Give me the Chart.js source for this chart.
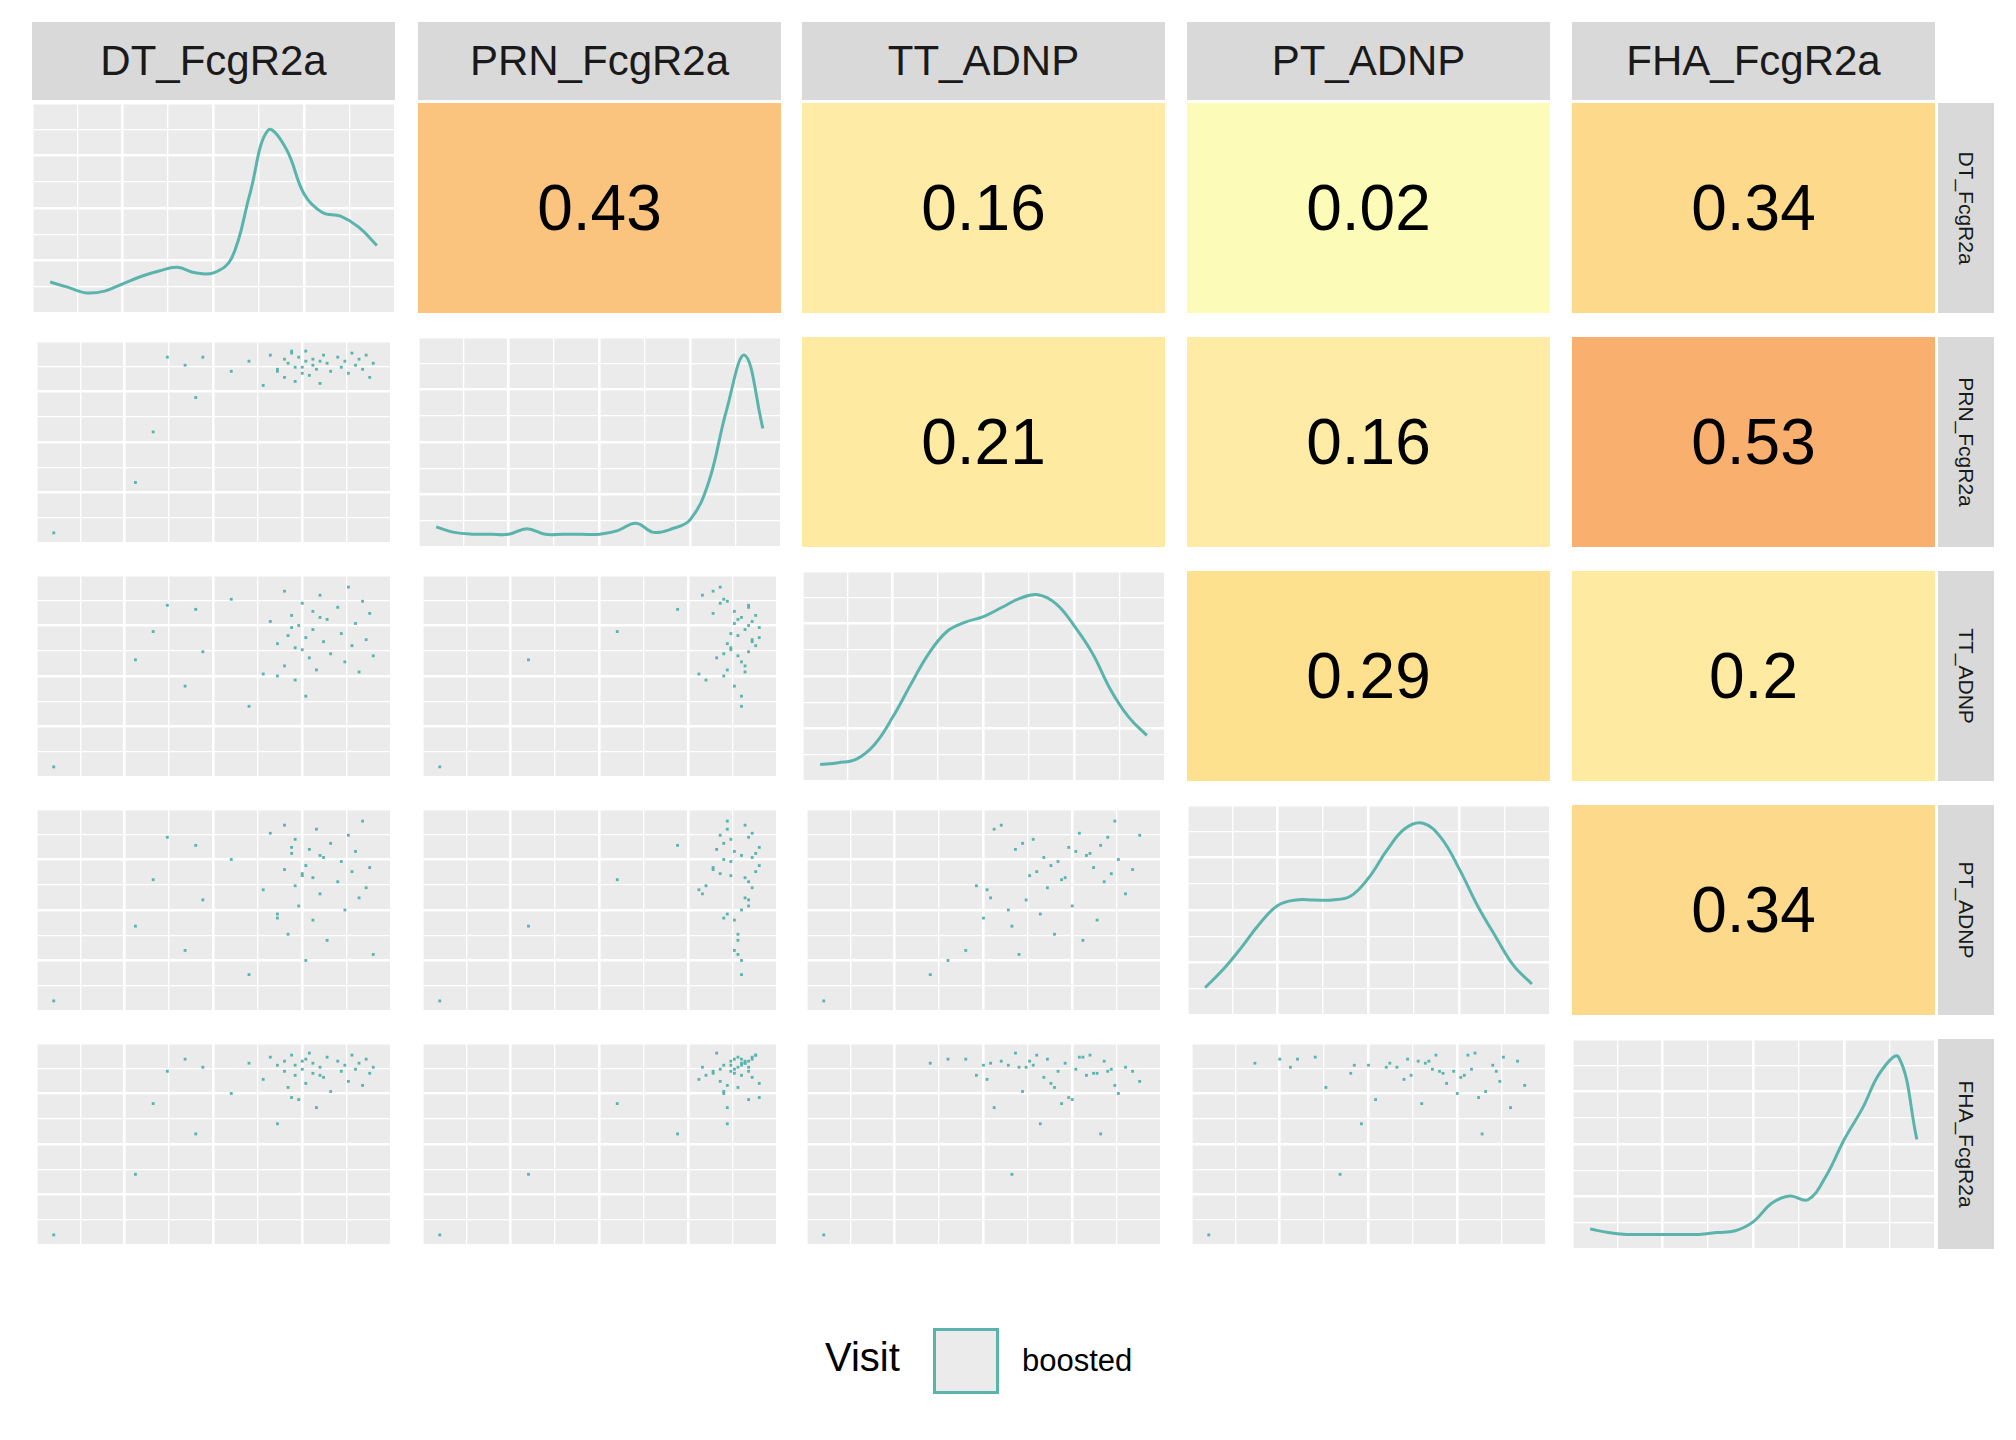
<!DOCTYPE html>
<html><head><meta charset="utf-8">
<script src="https://cdn.jsdelivr.net/npm/chart.js@4/dist/chart.umd.min.js"></script>
<style>
body{margin:0;width:2016px;height:1440px;background:#fff;font-family:Arial,"Liberation Sans",sans-serif;position:relative;overflow:hidden}
.strip{position:absolute;background:#d9d9d9;color:#1a1a1a;display:flex;align-items:center;justify-content:center}
.panel{position:absolute}
.cell{position:absolute;display:flex;align-items:center;justify-content:center;font-size:64px;color:#000}
.rs span{transform:rotate(90deg);white-space:nowrap;font-size:21px}
</style></head><body>
<script>
// variable names and strip labels
const varNames = ['DT_FcgR2a', 'PRN_FcgR2a', 'TT_ADNP', 'PT_ADNP', 'FHA_FcgR2a'];

const dtFcgR2a  = [0.05,0.28,0.33,0.42,0.45,0.47,0.55,0.60,0.64,0.66,0.68,0.70,0.70,0.71,0.72,0.73,0.73,0.74,0.75,0.76,0.76,0.77,0.78,0.78,0.79,0.80,0.81,0.82,0.83,0.85,0.86,0.87,0.88,0.89,0.90,0.91,0.92,0.93,0.94,0.95,0.72,0.75,0.80,0.68,0.37];
const prnFcgR2a = [0.05,0.30,0.55,0.88,0.72,0.92,0.85,0.90,0.78,0.93,0.86,0.82,0.91,0.89,0.94,0.80,0.87,0.92,0.84,0.90,0.95,0.83,0.88,0.91,0.86,0.79,0.93,0.89,0.85,0.92,0.87,0.90,0.84,0.94,0.88,0.91,0.86,0.93,0.82,0.89,0.95,0.87,0.90,0.85,0.92];
const ttAdnp    = [0.05,0.58,0.72,0.45,0.83,0.62,0.88,0.35,0.51,0.77,0.66,0.92,0.55,0.70,0.80,0.48,0.64,0.75,0.86,0.40,0.69,0.59,0.82,0.73,0.53,0.90,0.67,0.78,0.61,0.84,0.71,0.57,0.94,0.65,0.76,0.52,0.87,0.68,0.81,0.60,0.74,0.63,0.79,0.50,0.85];
const ptAdnp    = [0.05,0.42,0.65,0.30,0.82,0.55,0.75,0.18,0.60,0.88,0.48,0.70,0.92,0.38,0.78,0.62,0.85,0.52,0.68,0.25,0.72,0.80,0.45,0.66,0.90,0.58,0.76,0.35,0.83,0.64,0.74,0.50,0.87,0.69,0.79,0.56,0.94,0.61,0.71,0.28,0.81,0.67,0.77,0.46,0.86];
const fhaFcgR2a = [0.05,0.35,0.70,0.92,0.55,0.88,0.75,0.90,0.82,0.93,0.60,0.86,0.91,0.78,0.94,0.84,0.89,0.72,0.87,0.92,0.80,0.95,0.85,0.90,0.68,0.88,0.83,0.93,0.76,0.91,0.86,0.89,0.81,0.94,0.87,0.90,0.79,0.92,0.85,0.88,0.73,0.91,0.84,0.89,0.86];
const observations = [dtFcgR2a, prnFcgR2a, ttAdnp, ptAdnp, fhaFcgR2a];

// density curves on the diagonal, sampled at densityX
const densityX   = [0.05,0.10,0.15,0.20,0.25,0.30,0.35,0.40,0.45,0.50,0.55,0.60,0.65,0.70,0.75,0.80,0.85,0.90,0.95];
const dtDensity  = [0.12,0.09,0.06,0.07,0.11,0.15,0.18,0.20,0.17,0.17,0.25,0.60,0.95,0.85,0.60,0.50,0.48,0.42,0.32];
const prnDensity = [0.06,0.03,0.02,0.02,0.02,0.05,0.02,0.02,0.02,0.02,0.04,0.08,0.03,0.05,0.10,0.30,0.70,1.00,0.60];
const ttDensity  = [0.04,0.05,0.07,0.15,0.30,0.48,0.65,0.77,0.82,0.85,0.90,0.95,0.97,0.92,0.80,0.65,0.45,0.30,0.20];
const ptDensity  = [0.10,0.20,0.32,0.45,0.55,0.58,0.58,0.58,0.60,0.70,0.85,0.97,1.00,0.92,0.75,0.55,0.38,0.22,0.12];
const fhaDensity = [0.06,0.04,0.03,0.03,0.03,0.03,0.03,0.04,0.05,0.10,0.20,0.24,0.22,0.35,0.55,0.72,0.92,1.00,0.55];
const densities = [dtDensity, prnDensity, ttDensity, ptDensity, fhaDensity];

// correlation labels in the upper triangle [row][col]
const corrCells = [
  [0,1,0.43],[0,2,0.16],[0,3,0.02],[0,4,0.34],
  [1,2,0.21],[1,3,0.16],[1,4,0.53],
  [2,3,0.29],[2,4,0.2],
  [3,4,0.34]
];
const corrColor = {'0.02':'#fcfbb7','0.16':'#feeca6','0.2':'#feeaa1','0.21':'#feeaa1','0.29':'#fde18f','0.34':'#fdda8b','0.43':'#fbc47e','0.53':'#f9b06e'};

const teal = '#5ab4ac';
const colX = [32, 418, 802, 1187, 1572];
const rowY = [103, 337, 571, 805, 1039];
const W = 363, H = 210;

function add(el, cls, x, y, w, h) {
  el.className = cls;
  Object.assign(el.style, {left: x + 'px', top: y + 'px', width: w + 'px', height: h + 'px'});
  document.body.appendChild(el);
  return el;
}

varNames.forEach((n, k) => {
  const s = add(document.createElement('div'), 'strip', colX[k], 22, W, 78);
  s.style.fontSize = '42px'; s.textContent = n;
  const r = add(document.createElement('div'), 'strip rs', 1938, rowY[k], 56, H);
  r.innerHTML = '<span>' + n + '</span>';
});

const gridAxis = (min, max) => ({
  type: 'linear', min: min, max: max,
  ticks: {display: false, stepSize: (max - min) / 8},
  border: {display: false},
  grid: {color: '#ffffff', drawTicks: false,
         lineWidth: c => (c.index % 2 === 0 ? 2.6 : 1.3)}
});
const bgPlugin = {
  id: 'bg',
  beforeDraw(chart) {
    const a = chart.chartArea, ctx = chart.ctx;
    ctx.save(); ctx.fillStyle = '#ebebeb';
    ctx.fillRect(a.left, a.top, a.right - a.left, a.bottom - a.top);
    ctx.restore();
  }
};

for (let i = 0; i < 5; i++) {
  for (let j = 0; j < 5; j++) {
    if (j > i) continue;
    const wrap = add(document.createElement('div'), 'panel', colX[j], rowY[i], W, H);
    const cv = document.createElement('canvas');
    wrap.appendChild(cv);
    let config;
    if (i === j) {
      config = {
        type: 'line',
        data: {datasets: [{data: densityX.map((x, k) => ({x: x, y: densities[i][k]})),
          borderColor: teal, borderWidth: 3, pointRadius: 0, tension: 0.4, fill: false}]},
        options: {scales: {x: gridAxis(0, 1), y: gridAxis(-0.05, 1.1)}}
      };
    } else {
      const xs = observations[j], ys = observations[i];
      config = {
        type: 'scatter',
        data: {datasets: [{data: xs.map((x, k) => ({x: x, y: ys[k]})),
          backgroundColor: teal, borderWidth: 0, pointStyle: 'rect', pointRadius: 2}]},
        options: {scales: {x: gridAxis(0, 1), y: gridAxis(0, 1)}}
      };
    }
    config.options.responsive = true;
    config.options.maintainAspectRatio = false;
    config.options.animation = false;
    config.options.layout = {padding: 0};
    config.options.plugins = {legend: {display: false}, tooltip: {enabled: false}};
    config.plugins = [bgPlugin];
    new Chart(cv, config);
  }
}

corrCells.forEach(([r, c, v]) => {
  const d = add(document.createElement('div'), 'cell', colX[c], rowY[r], W, H);
  d.style.background = corrColor[String(v)];
  d.textContent = String(v);
});

// legend
const lt = add(document.createElement('div'), '', 825, 1335, 120, 50);
lt.style.position = 'absolute'; lt.style.fontSize = '40px'; lt.textContent = 'Visit';
const lk = add(document.createElement('div'), '', 933, 1328, 60, 60);
Object.assign(lk.style, {position: 'absolute', background: '#ebebeb', border: '3px solid ' + teal});
const lb = add(document.createElement('div'), '', 1022, 1343, 150, 40);
lb.style.position = 'absolute'; lb.style.fontSize = '31px'; lb.textContent = 'boosted';
</script>
</body></html>
